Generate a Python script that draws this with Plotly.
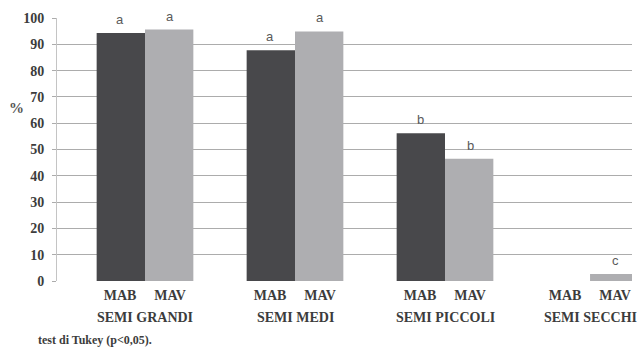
import plotly.graph_objects as go

# Germination (%) by seed class and provenance
groups = ["SEMI GRANDI", "SEMI MEDI", "SEMI PICCOLI", "SEMI SECCHI"]
series = ["MAB", "MAV"]
mab_values = [94.3, 87.7, 56.2, 0.0]
mav_values = [95.6, 94.9, 46.5, 2.7]
mab_letters = ["a", "a", "b", ""]
mav_letters = ["a", "a", "b", "c"]
y_ticks = [0, 10, 20, 30, 40, 50, 60, 70, 80, 90, 100]

# category positions on the x axis (last class sits slightly closer)
group_pos = [0, 1, 2, 2.967]
half = 1 / 6  # offset of each bar centre from the group centre

colors = {"MAB": "#48484b", "MAV": "#aeaeb1"}
serif = "Liberation Serif"
text_col = "#3c3c3c"

fig = go.Figure()
for name, vals in zip(series, [mab_values, mav_values]):
    fig.add_trace(go.Bar(
        x=group_pos, y=vals, name=name,
        marker=dict(color=colors[name], line=dict(width=0)),
    ))

# significance letters above each bar
for sign, vals, letters in [(-1, mab_values, mab_letters), (1, mav_values, mav_letters)]:
    for g, v, t in zip(group_pos, vals, letters):
        if t:
            fig.add_annotation(
                x=g + sign * half, y=v, text=t, showarrow=False,
                yanchor="bottom", yshift=4,
                font=dict(family="Liberation Sans", size=13, color="#5a5a5a"),
            )

# group names under the MAB/MAV labels
for g, label in zip(group_pos, groups):
    fig.add_annotation(
        x=g, xref="x", y=0, yref="paper", yanchor="middle", yshift=-36,
        text=label, showarrow=False,
        font=dict(family=serif, size=14, color=text_col, weight="bold"),
    )

fig.add_annotation(
    x=0, xref="paper", xanchor="left", xshift=-21,
    y=0, yref="paper", yanchor="middle", yshift=-59,
    text="test di Tukey (p<0,05).", showarrow=False,
    font=dict(family=serif, size=12, color=text_col, weight="bold"),
)
fig.add_annotation(
    x=0, xref="paper", xanchor="center", xshift=-41,
    y=70, yref="y", yanchor="middle", yshift=-11,
    text="%", showarrow=False,
    font=dict(family=serif, size=15, color="#555555", weight="bold"),
)

tick_x = []
tick_t = []
for g in group_pos:
    tick_x += [g - half, g + half]
    tick_t += series

fig.update_layout(
    width=638, height=348,
    margin=dict(l=57, r=6, t=18, b=67),
    paper_bgcolor="white", plot_bgcolor="white",
    barmode="group", bargap=1 / 3, bargroupgap=0,
    showlegend=False,
    xaxis=dict(
        range=[-0.5867, 3.2467], tickvals=tick_x, ticktext=tick_t,
        showgrid=False, zeroline=False, showline=False, ticks="",
        ticklabelstandoff=4,
        tickfont=dict(family=serif, size=14, color=text_col, weight="bold"),
    ),
    yaxis=dict(
        range=[0, 100], tickvals=y_ticks,
        showgrid=True, gridcolor="#acacac", gridwidth=1.4,
        zeroline=False,
        showline=True, linecolor="#c4c4c4", linewidth=1,
        ticks="outside", ticklen=4, tickcolor="#acacac", tickwidth=1.4,
        ticklabelstandoff=5,
        tickfont=dict(family=serif, size=14, color=text_col, weight="bold"),
    ),
)

fig.write_html("out.html")
